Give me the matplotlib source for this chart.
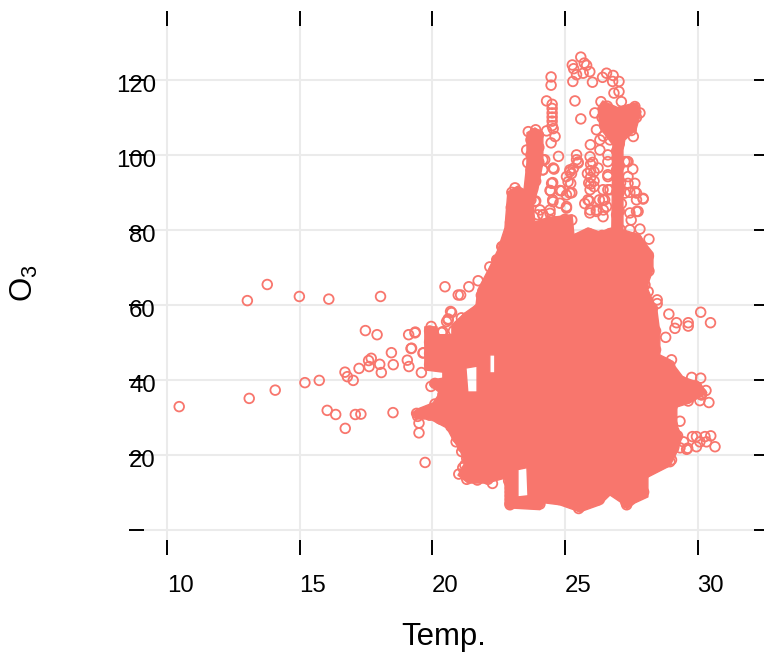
#!/usr/bin/env python3
"""Temp. vs O3 scatter with hollow points, heavy overplotting in the middle."""

import matplotlib
matplotlib.use('Agg')
import matplotlib.pyplot as plt
from matplotlib.patches import PathPatch
from matplotlib.path import Path
from matplotlib.transforms import ScaledTranslation
import numpy as np

plt.rcParams['font.family'] = ['Liberation Sans', 'DejaVu Sans']
plt.rcParams['mathtext.default'] = 'regular'

# Points that can be told apart as (temp, o3)
left_points = [
    (10.46, 32.8), (13.03, 61.1), (13.78, 65.4), (14.99, 62.2), (16.1, 61.5), (18.05, 62.2),
    (13.1, 35.0), (14.08, 37.2), (15.2, 39.2), (15.74, 39.8), (16.04, 31.8), (16.36, 30.7),
    (16.72, 27.0), (17.1, 30.7), (17.31, 30.8), (18.52, 31.2), (16.71, 42.0), (16.8, 40.8),
    (17.02, 39.8), (17.24, 43.0), (17.48, 53.1), (17.92, 52.0), (17.6, 45.1), (17.7, 45.7),
    (17.62, 43.5), (18.02, 44.1), (18.08, 41.9), (18.46, 47.2), (18.53, 44.0), (19.06, 45.2),
    (19.12, 43.5), (19.2, 48.3), (19.11, 52.0), (19.36, 52.7), (19.59, 41.9), (19.73, 17.9),
    (20.48, 64.8), (19.95, 38.2), (19.5, 25.8), (19.5, 28.4), (19.41, 31.0), (19.45, 30.2),
    (20.98, 62.6), (20.73, 57.9), (20.6, 55.9), (20.4, 52.8), (19.67, 47.2), (19.96, 54.2),
    (21.07, 62.6), (21.38, 64.8), (21.73, 66.4), (22.64, 75.5), (22.47, 72.0), (22.17, 70.1),
    (20.69, 58.2), (20.6, 56.2), (20.54, 55.5), (20.35, 52.6), (21.1, 56.5), (19.35, 52.5),
    (19.22, 48.4), (19.65, 47.1), (22.62, 75.5), (22.43, 72.0),
]
top_points = [
    (25.6, 126.1), (25.28, 124.0), (25.33, 123.0), (25.73, 124.5), (25.82, 123.9), (25.44, 121.4),
    (25.3, 119.6), (25.69, 121.8), (25.94, 122.2), (26.04, 119.4), (26.42, 120.7), (26.57, 121.8),
    (26.82, 121.2), (27.04, 119.6), (26.8, 119.6), (27.04, 116.9), (26.85, 116.5), (24.48, 120.8),
    (24.48, 118.6), (24.31, 114.4), (25.38, 114.4), (25.6, 109.6), (24.76, 99.6), (24.59, 96.2),
    (25.96, 102.7), (25.95, 99.5), (25.44, 100.0), (25.44, 98.7), (25.5, 97.8), (25.32, 96.4),
    (25.19, 95.5), (25.06, 94.2), (25.22, 92.4), (25.26, 89.9), (25.06, 89.3), (24.87, 90.4),
    (24.54, 92.6), (24.46, 90.4), (24.54, 88.0), (23.9, 87.7), (25.92, 87.7), (25.94, 84.5),
    (26.62, 98.2), (26.62, 94.7), (27.38, 98.2), (27.56, 96.2), (27.38, 92.4), (27.64, 92.4),
    (27.7, 89.8), (27.95, 88.2), (27.76, 84.9), (27.7, 88.0), (27.5, 82.6), (27.83, 80.2),
    (28.17, 77.5), (27.45, 80.0), (26.32, 104.0), (26.32, 101.3), (26.19, 106.7), (25.95, 90.7),
    (26.44, 90.7), (24.63, 104.9), (24.48, 103.2), (24.31, 106.4), (23.6, 97.9), (23.56, 101.3),
    (24.24, 98.7), (24.17, 96.0), (25.06, 86.2), (24.81, 87.1), (24.44, 84.4), (24.17, 84.0),
    (25.26, 82.6), (24.06, 85.3), (26.57, 86.2), (26.44, 83.5), (26.19, 85.3), (23.62, 106.2),
    (23.9, 106.7), (23.12, 91.2), (23.0, 90.0), (26.13, 111.2), (26.36, 114.2), (27.64, 112.9),
    (27.83, 111.2), (27.45, 107.5), (27.58, 104.9), (27.13, 114.2), (26.7, 104.0), (27.26, 98.2),
    (27.38, 94.2), (26.62, 90.7), (26.3, 88.0), (24.52, 113.5), (24.52, 112.4), (24.52, 111.2),
    (24.52, 110.1), (24.52, 109.0), (24.52, 107.8), (24.56, 107.0), (25.97, 97.5), (25.97, 95.8),
    (25.97, 94.0), (25.97, 92.2), (26.62, 100.0), (27.45, 90.0), (27.1, 92.5), (27.05, 90.0),
    (26.1, 93.0), (26.25, 96.5), (26.5, 88.0), (25.75, 87.0),
    (25.5, 98.1), (25.19, 96.0), (25.25, 95.0), (25.12, 92.8), (24.56, 96.5), (24.5, 92.4),
    (24.44, 90.5), (24.81, 90.5), (25.19, 89.8), (24.55, 87.5), (23.87, 87.5), (25.06, 85.8),
    (24.44, 85.3), (24.17, 84.0), (24.17, 98.7), (24.17, 96.0), (26.05, 98.0), (26.1, 95.5),
    (25.85, 95.0), (25.9, 92.5), (26.1, 91.5), (26.62, 94.2), (27.33, 98.2), (27.95, 88.4),
    (27.64, 90.2), (27.7, 84.9), (26.44, 88.0), (26.19, 84.9), (26.7, 90.7), (26.45, 85.3),
    (27.13, 87.0), (27.26, 89.8), (25.87, 88.0), (25.95, 85.3), (27.45, 84.5),
]
right_points = [
    (28.92, 57.5), (29.21, 55.2), (29.15, 53.7), (29.65, 55.2), (29.65, 54.3), (30.12, 58.0),
    (30.49, 55.2), (28.8, 51.3), (28.48, 61.3), (28.48, 60.3), (28.14, 63.5), (28.02, 65.3),
    (29.02, 45.3), (30.12, 40.4), (29.78, 40.6), (30.32, 37.1), (30.43, 33.9), (30.09, 34.4),
    (29.65, 34.3), (30.15, 35.9), (29.96, 38.1), (29.34, 28.9), (30.66, 22.1), (30.5, 25.0),
    (30.28, 24.8), (29.96, 24.8), (29.81, 24.8), (30.09, 23.4), (30.34, 23.4), (29.96, 22.1),
    (29.59, 21.4), (29.34, 21.8), (29.47, 23.4), (29.02, 18.6), (28.96, 18.1), (29.63, 21.7),
]
bottom_points = [
    (27.33, 6.6), (22.27, 12.3), (22.93, 12.0), (22.93, 11.0), (22.93, 10.0), (22.93, 9.0),
    (22.93, 8.0), (22.93, 7.0), (22.93, 6.6), (25.52, 5.6), (21.17, 25.8), (20.9, 23.4),
    (21.23, 17.2), (21.11, 20.8),
]
# Points on the rim of the solid middle, these give it the scalloped edge
rim_points = [
    (21.15, 16.5), (21.0, 14.8), (21.3, 13.4), (21.7, 13.2), (22.1, 13.4), (21.3, 19.0),
    (21.15, 22.0), (20.95, 24.5), (20.7, 27.5), (20.3, 29.5), (19.9, 30.5), (19.6, 31.0),
    (20.1, 33.5), (20.4, 36.0), (20.1, 39.0), (19.9, 44.0), (19.9, 47.0), (19.9, 50.0),
    (19.9, 53.0), (20.8, 53.0), (21.3, 56.5), (21.75, 58.8), (21.85, 62.5), (22.1, 66.0),
    (22.35, 69.5), (22.6, 73.0), (22.85, 77.0), (22.95, 82.0), (22.98, 86.0), (23.1, 89.5),
    (23.7, 92.0), (23.72, 96.0), (23.72, 100.0), (23.72, 104.0), (24.0, 105.3), (24.02, 102.0),
    (24.02, 98.0), (23.9, 93.0), (23.72, 88.0), (23.98, 84.0), (24.5, 82.5), (25.0, 82.8),
    (25.45, 77.5), (25.9, 79.0), (26.4, 78.5), (26.7, 79.0), (26.95, 84.0), (26.95, 90.0),
    (26.95, 96.0), (26.95, 101.0), (26.45, 105.0), (26.4, 110.0), (26.6, 113.0), (27.1, 111.5),
    (27.5, 112.0), (27.7, 110.0), (27.5, 106.5), (27.05, 103.0), (27.05, 97.0), (27.05, 91.0),
    (27.05, 85.0), (27.1, 80.0), (27.7, 77.5), (28.15, 73.0), (28.17, 69.0), (27.95, 65.0),
    (28.3, 59.0), (28.42, 53.0), (28.42, 48.0), (28.95, 43.8), (29.4, 39.5), (29.95, 38.0),
    (30.15, 36.3), (29.6, 35.0), (29.05, 33.0), (29.05, 28.0), (29.25, 25.0), (29.1, 21.8),
    (28.8, 18.0), (28.0, 15.0), (27.97, 10.0), (27.55, 8.4), (27.3, 7.2), (26.65, 10.6),
    (26.3, 8.0), (25.57, 6.1), (24.8, 8.0), (24.06, 6.8), (23.5, 7.3), (22.95, 7.2), (22.88, 13.0),
]

# The middle is overplotted to a solid mass, so it is kept as the outline read
# off the picture, with the few white gaps inside it
mass_temp = [
    22.74, 22.85, 23.23, 23.46, 23.57, 23.57, 23.87, 24.17, 24.17, 23.98, 23.8, 23.87, 24.36,
    25.27, 25.34, 25.87, 26.32, 26.77, 26.81, 26.32, 26.25, 26.43, 27.0, 27.38, 27.72, 27.87,
    27.68, 27.26, 27.19, 27.19, 27.83, 28.02, 28.32, 28.32, 28.09, 28.47, 28.58, 28.58, 28.96,
    29.45, 30.09, 30.35, 29.71, 29.22, 29.22, 29.41, 29.26, 28.96, 28.13, 28.13, 27.64, 27.34,
    27.08, 26.7, 26.32, 25.57, 24.81, 24.25, 24.06, 22.82, 22.74, 22.06, 21.35, 20.97, 21.23,
    21.04, 20.78, 20.55, 19.91, 19.42, 19.24, 19.46, 20.03, 20.29, 19.91, 19.99, 20.4, 20.4,
    19.72, 19.72, 20.18, 20.21, 20.74, 20.74, 21.23, 21.65, 21.72, 22.17, 22.47,
]
mass_o3 = [
    80.5, 90.1, 91.7, 90.7, 97.9, 105.9, 107.2, 105.9, 97.9, 90.7, 86.6, 82.1, 83.2,
    84.0, 78.7, 80.5, 79.4, 80.5, 102.7, 107.2, 112.6, 114.4, 112.6, 113.4, 113.9, 111.5,
    106.7, 104.0, 101.3, 80.0, 78.6, 76.5, 73.8, 69.3, 64.7, 58.6, 52.5, 46.6, 45.3,
    40.7, 39.1, 36.5, 33.8, 32.7, 27.9, 24.7, 21.2, 17.0, 14.0, 8.7, 7.1, 5.5,
    7.4, 9.2, 6.6, 4.7, 6.6, 7.1, 5.3, 5.8, 13.7, 12.4, 12.4, 14.5, 17.8,
    21.3, 24.0, 27.1, 29.5, 29.5, 31.1, 32.2, 33.8, 36.5, 38.6, 39.9, 40.4, 42.0,
    42.6, 54.1, 54.1, 52.0, 52.0, 54.6, 57.8, 59.9, 64.0, 70.1, 74.6,
]
gap_temp = [
    [21.27, 21.69, 21.69, 21.34],
    [22.17, 22.36, 22.36, 22.17],
    [23.23, 23.57, 23.61, 23.23],
]
gap_o3 = [
    [43.1, 43.6, 36.7, 36.7],
    [46.6, 46.6, 41.8, 41.8],
    [16.0, 16.5, 9.0, 8.7],
]

x_ticks = [10, 15, 20, 25, 30]
y_ticks = [0, 20, 40, 60, 80, 100, 120]
y_tick_labels = ['', '20', '40', '60', '80', '100', '120']

color_points = '#F8766D'
color_grid = '#EBEBEB'


def closed_path(temp, o3):
    verts = np.column_stack([temp + temp[:1], o3 + o3[:1]])
    return Path(verts, closed=True)


fig = plt.figure(figsize=(7.64, 6.56), dpi=100)
ax = fig.add_axes([144 / 764, 1 - 540 / 656, 610 / 764, 514 / 656])

# Solid middle, gaps run the opposite way round so they stay open
parts = [closed_path(mass_temp, mass_o3)]
for t, o in zip(gap_temp, gap_o3):
    parts.append(closed_path(t[::-1], o[::-1]))
ax.add_patch(PathPatch(Path.make_compound_path(*parts), facecolor=color_points,
                       edgecolor=color_points, linewidth=1.0, joinstyle='round', zorder=2))

points = np.array(left_points + top_points + right_points + bottom_points + rim_points)
ax.scatter(points[:, 0], points[:, 1], s=48, facecolors='none',
           edgecolors=color_points, linewidths=1.3, zorder=3)

ax.set_xlim(9.133, 32.13)
ax.set_ylim(-2.8, 134.4)

for side in ax.spines.values():
    side.set_visible(False)
ax.set_axisbelow(True)
ax.grid(True, color=color_grid, linewidth=1.5)

ax.set_xticks(x_ticks)
ax.set_yticks(y_ticks)
ax.set_yticklabels(y_tick_labels)
ax.tick_params(axis='both', length=10.8, width=1.4, color='black',
               top=True, right=True, labelsize=17.3)
ax.tick_params(axis='y', pad=-19.4)
ax.tick_params(axis='x', pad=14.5)

# Tick labels sit off their ticks in the original
down = ScaledTranslation(0, -4 / 100, fig.dpi_scale_trans)
for label in ax.get_yticklabels():
    label.set_transform(label.get_transform() + down)
for label in ax.get_xticklabels():
    label.set_ha('left')

fig.text(444 / 764, 1 - 637 / 656, 'Temp.', ha='center', va='center', fontsize=22.4)
fig.text(24 / 764, 1 - 283 / 656, 'O$_3$', ha='center', va='center', rotation=90, fontsize=22.4)

plt.savefig('out.png', dpi=100)
plt.close()
